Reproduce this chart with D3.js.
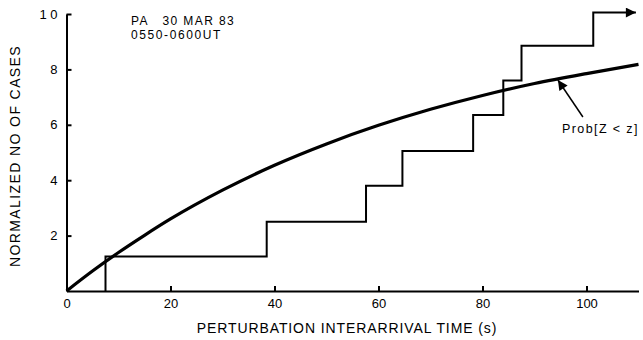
<!DOCTYPE html>
<html>
<head>
<meta charset="utf-8">
<script src="https://cdn.jsdelivr.net/npm/d3@7"></script>
<style>
  html, body { margin: 0; padding: 0; background: #fff; }
  svg { display: block; font-family: "Liberation Sans", Arial, Helvetica, sans-serif; }
  .axis path, .axis line { stroke: #000; stroke-width: 2px; }
  .axis text { font-size: 13px; fill: #000; }
</style>
</head>
<body>
<svg id="chart" width="643" height="340"></svg>
<script>
// Observed cumulative count: interarrival times (s) where each step occurs, and the level reached
const stepTimes  = [7.5, 38.5, 57.6, 64.6, 78.2, 84.0, 87.5, 101.3];
const stepLevels = [1.25, 2.5, 3.8, 5.05, 6.35, 7.6, 8.85, 10.05];
const stepEnd = 109.5;

// Expected distribution Prob[Z < z], sampled along the time axis
const curveTimes  = [0, 5, 10, 15, 20, 30, 40, 50, 60, 70, 80, 90, 100, 110];
const curveValues = [0, 0.72, 1.39, 2.01, 2.60, 3.64, 4.54, 5.31, 5.98, 6.56, 7.06, 7.49, 7.85, 8.18];

// Axis ticks
const xTicks = [0, 20, 40, 60, 80, 100];
const yTicks = [2, 4, 6, 8, 10];

const svg = d3.select("#chart");

const x = d3.scaleLinear().domain([0, 110]).range([66.5, 638.5]);
const y = d3.scaleLinear().domain([0, 10]).range([291, 14]);

// Axes with inward ticks
svg.append("g")
  .attr("class", "axis")
  .attr("transform", `translate(0,${y(0)})`)
  .call(d3.axisBottom(x).tickValues(xTicks).tickSizeInner(-5).tickSizeOuter(0).tickPadding(7.8))
  .call(g => g.selectAll(".tick line").attr("stroke-width", 1.5));

svg.append("g")
  .attr("class", "axis")
  .attr("transform", `translate(${x(0)},0)`)
  .call(d3.axisLeft(y).tickValues(yTicks).tickSizeInner(-5).tickSizeOuter(0).tickPadding(9))
  .call(g => g.selectAll(".tick line").attr("stroke-width", 1.5))
  .call(g => g.selectAll(".tick text").filter(d => d === 10).text("1 0"));

// Axis titles
svg.append("text")
  .attr("x", 347).attr("y", 333)
  .attr("text-anchor", "middle")
  .attr("font-size", 14)
  .attr("letter-spacing", 0.9)
  .text("PERTURBATION INTERARRIVAL TIME (s)");

svg.append("text")
  .attr("transform", "translate(20,156) rotate(-90)")
  .attr("text-anchor", "middle")
  .attr("font-size", 14)
  .attr("letter-spacing", 1.4)
  .text("NORMALIZED NO OF CASES");

// Header
svg.append("text")
  .attr("x", 131).attr("y", 25)
  .attr("font-size", 12)
  .attr("letter-spacing", 1.4)
  .attr("xml:space", "preserve")
  .text("PA   30 MAR 83");
svg.append("text")
  .attr("x", 131).attr("y", 39)
  .attr("font-size", 12)
  .attr("letter-spacing", 1.6)
  .text("0550-0600UT");

// Arrowhead marker
const defs = svg.append("defs");
defs.append("marker")
  .attr("id", "head")
  .attr("viewBox", "0 0 10 10")
  .attr("refX", 10).attr("refY", 5)
  .attr("markerWidth", 12).attr("markerHeight", 10)
  .attr("markerUnits", "userSpaceOnUse")
  .attr("orient", "auto")
  .append("path").attr("d", "M0,0 L10,5 L0,10 Z").attr("fill", "#000");

// Theoretical curve
const curveData = curveTimes.map((t, i) => ({ t, v: curveValues[i] }));
svg.append("path")
  .datum(curveData)
  .attr("fill", "none")
  .attr("stroke", "#000")
  .attr("stroke-width", 3.2)
  .attr("d", d3.line().x(d => x(d.t)).y(d => y(d.v)).curve(d3.curveMonotoneX));

// Staircase of observed cases
const stairs = [{ t: stepTimes[0], v: 0 }]
  .concat(stepTimes.map((t, i) => ({ t, v: stepLevels[i] })))
  .concat([{ t: stepEnd, v: stepLevels[stepLevels.length - 1] }]);
svg.append("path")
  .datum(stairs)
  .attr("fill", "none")
  .attr("stroke", "#000")
  .attr("stroke-width", 2)
  .attr("marker-end", "url(#head)")
  .attr("d", d3.line().x(d => x(d.t)).y(d => y(d.v)).curve(d3.curveStepAfter));

// Annotation pointing at the curve
const tipT = 94.5;
const tipV = d3.scaleLinear().domain(curveTimes).range(curveValues)(tipT);
const tipX = x(tipT), tipY = y(tipV) + 1;
svg.append("line")
  .attr("x1", tipX + 25).attr("y1", tipY + 37)
  .attr("x2", tipX).attr("y2", tipY)
  .attr("stroke", "#000").attr("stroke-width", 1.5)
  .attr("marker-end", "url(#head)");
svg.append("text")
  .attr("x", 562).attr("y", 133)
  .attr("font-size", 12.5)
  .attr("letter-spacing", 1.4)
  .text("Prob[Z < z]");
</script>
</body>
</html>
